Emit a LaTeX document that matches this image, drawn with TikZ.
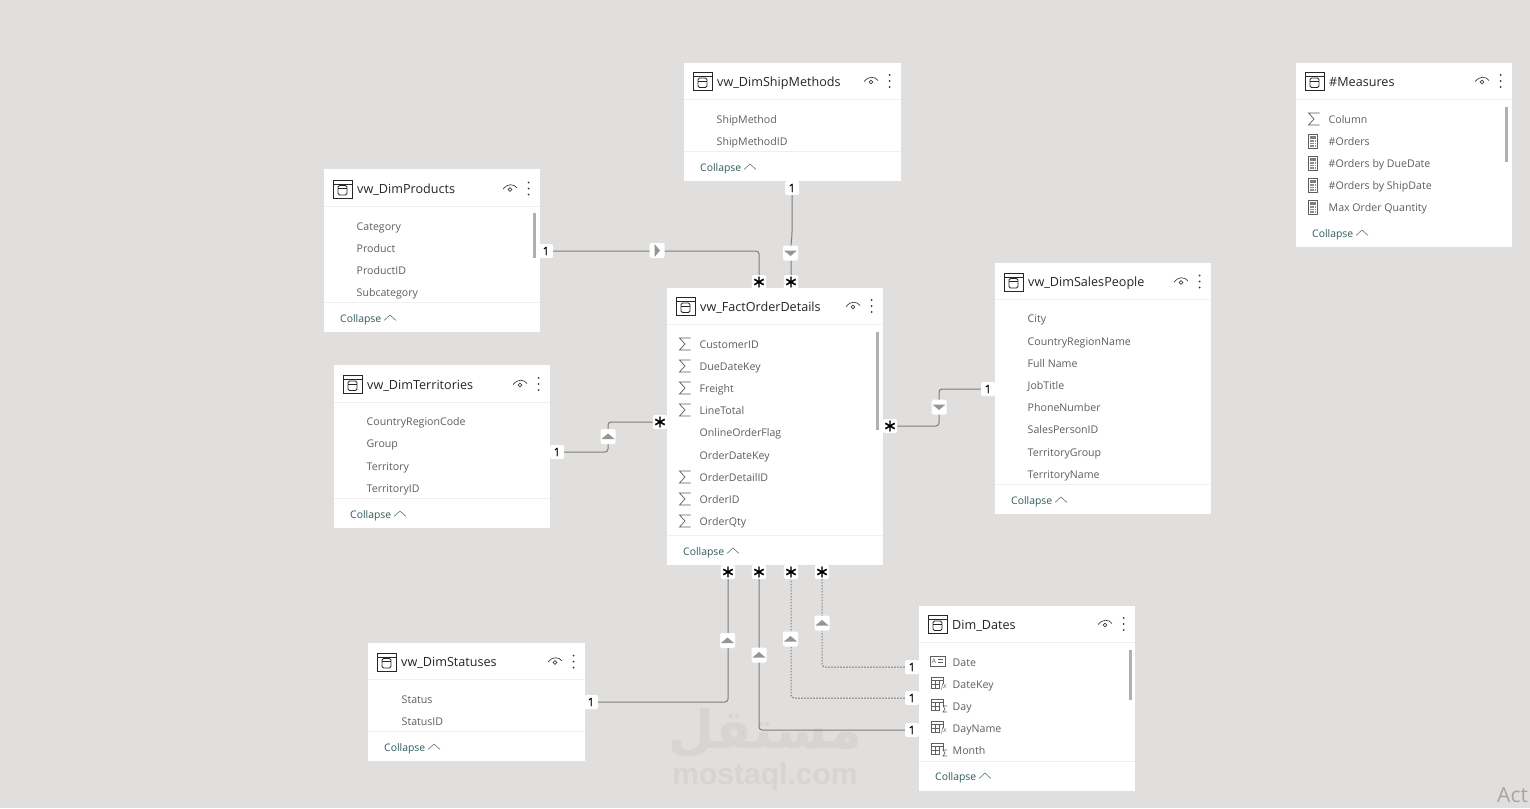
\documentclass[tikz,border=0pt]{standalone}
\usepackage{fontspec}
\setmainfont{Open Sans}
\newfontfamily\arabicfont[Script=Arabic]{DejaVu Sans}
\newfontfamily\wmfont{Liberation Sans}
\newfontfamily\starfont[FakeBold=.4]{DejaVu Sans}
\newfontfamily\onefont[FakeBold=.6]{Open Sans}
\TeXXeTstate=1
\usetikzlibrary{calc}
\definecolor{bgc}{HTML}{E0DFDD}
\definecolor{txtc}{HTML}{605E5C}
\definecolor{titlec}{HTML}{252423}
\definecolor{tealc}{HTML}{2F5B5B}
\definecolor{linec}{HTML}{7F7D7B}
\definecolor{arrowc}{HTML}{979593}
\definecolor{sepc}{HTML}{F0EFEE}
\definecolor{barc}{HTML}{B0AFAD}
\definecolor{wmc}{HTML}{D6D5D3}
\tikzset{
  card/.style={fill=white,draw=none,inner sep=0pt,rectangle},
  ttl/.style={anchor=base west,inner sep=0pt,yshift=-5.4pt,text=titlec,font=\fontsize{12.6}{14}\selectfont},
  itm/.style={anchor=base west,inner sep=0pt,xshift=.5pt,yshift=-4.7pt,text=txtc,font=\fontsize{10.6}{12}\selectfont},
  coll/.style={anchor=base west,inner sep=0pt,yshift=-4.7pt,text=tealc,font=\fontsize{10.4}{12}\selectfont},
  badge/.style={fill=white,rounded corners=1.5pt,minimum width=14pt,minimum height=14pt,inner sep=0pt},
  onebadge/.style={badge,text=black,font=\fontsize{11.5}{12}\onefont},
  starbadge/.style={badge,text=black,font=\fontsize{17}{17}\starfont},
  arrbadge/.style={badge,minimum width=15pt,minimum height=15pt},
  rel/.style={draw=linec,line width=1pt,rounded corners=3pt},
  reldash/.style={rel,dash pattern=on 1.6pt off 1.4pt},
  icn/.style={draw=black!85,line width=1pt},
  thin icn/.style={draw=txtc,line width=.6pt},
}
% table card: id, x0, y0, x1, y1, header line y, footer line y (or -1), title
\newcommand{\tbl}[8]{%
  \node[card,minimum width={(#4-#2)*1pt},minimum height={(#5-#3)*1pt}] (#1) at ({(#2+#4)/2},{(#3+#5)/2}) {};
  \draw[sepc,line width=.8pt] (#2,#6) -- (#4,#6);
  \ifnum#7>0 \draw[sepc,line width=.8pt] (#2,#7) -- (#4,#7);\fi
  % table icon
  \draw[icn] (#2+9,{#6-18-8.5}) rectangle (#2+28,{#6-18+9.5});
  \draw[icn] (#2+9,{#6-18-4.5}) -- (#2+28,{#6-18-4.5});
  \draw[icn,rounded corners=1.5pt,line width=.8pt] (#2+14,{#6-18-3}) rectangle (#2+23,{#6-18+6.5});
  \draw[icn,line width=.8pt] (#2+14,{#6-18}) -- (#2+23,{#6-18});
  \node[ttl] (#1-title) at (#2+33,{#6-18}) {#8};
  % eye
  \draw[draw=black!75,line width=.7pt] (#4-37,{#6-18+.5}) .. controls (#4-33,{#6-18-5}) and (#4-26,{#6-18-5}) .. (#4-23,{#6-18-.5});
  \draw[draw=black!75,line width=.7pt] (#4-30,{#6-18+1}) circle (1.8);
  % dots
  \foreach \dd in {-6,0,6} \fill[black!80] (#4-11.5,{#6-18+\dd}) circle (1);
}
\newcommand{\collapse}[4]{% id, x0, ytext, footer chevron offset
  \node[coll] (#1-collapse) at (#2+16,#3) {Collapse};
  \draw[draw=tealc!80,line width=.6pt] (#2+60,#3+2.5) -- (#2+66,#3-3) -- (#2+72,#3+2.5);
}
\newcommand{\sigm}[2]{\draw[draw=txtc,line width=.7pt,line join=miter] (#1+11,#2-6) -- (#1,#2-6) -- (#1+5.5,#2) -- (#1,#2+6) -- (#1+11,#2+6);}
\newcommand{\calc}[2]{%
  \draw[thin icn,fill=white] (#1,#2-7) rectangle (#1+9,#2+7);
  \fill[txtc!80] (#1+1.5,#2-5.5) rectangle (#1+7.5,#2-2.5);
  \foreach \yy in {-1,1.5,4} \foreach \xx in {1.5,3.8,6.1} \fill[txtc!70] (#1+\xx,#2+\yy) rectangle ++(1.5,1.5);}
\newcommand{\gridicn}[2]{%
  \draw[thin icn] (#1,#2-6) rectangle (#1+12,#2+5);
  \draw[thin icn] (#1,#2-3) -- (#1+12,#2-3) (#1+4,#2-3) -- (#1+4,#2+5) (#1+8,#2-3) -- (#1+8,#2+5) (#1,#2+1) -- (#1+12,#2+1);
  \fill[white] (#1+9,#2+1) rectangle (#1+16,#2+8);}
\newcommand{\hierA}[2]{\gridicn{#1}{#2}\node[inner sep=0pt,text=txtc,font=\fontsize{6.5}{7}\itshape\selectfont] (fx#1#2) at (#1+13,#2+4) {fx};}
\newcommand{\hierB}[2]{\gridicn{#1}{#2}\draw[thin icn] (#1+16,#2+1) -- (#1+12,#2+1) -- (#1+14,#2+4) -- (#1+12,#2+7) -- (#1+16,#2+7);}
\newcommand{\cardicn}[2]{%
  \draw[thin icn] (#1,#2-5) rectangle (#1+15,#2+5);
  \node[inner sep=0pt,text=txtc,font=\fontsize{6.5}{7}\selectfont] (ca#1#2) at (#1+4,#2) {A};
  \draw[thin icn] (#1+8,#2-1.5) -- (#1+13,#2-1.5) (#1+8,#2+1.5) -- (#1+13,#2+1.5);}
\newcommand{\arrowbadge}[4]{% name,x,y,rot
  \node[arrbadge] (#1) at (#2,#3) {};
  \fill[arrowc,rotate around={#4:(#2,#3)}] (#2-6.5,#3+2.5) -- (#2,#3-3) -- (#2+6.5,#3+2.5) -- cycle;
}
\begin{document}
\begin{tikzpicture}[x=1pt,y=-1pt]
\useasboundingbox (0,0) rectangle (1530,808);
\clip (0,0) rectangle (1530,808);
\fill[bgc] (0,0) rectangle (1530,808);
% watermark
\node[inner sep=0pt,text=wmc,font=\fontsize{53}{60}\arabicfont\bfseries] (wmar) at (765,733) {\beginR مستقل\endR};
\node[inner sep=0pt,text=wmc,font=\fontsize{30}{32}\wmfont\bfseries] (wmen) at (765,777) {mostaql.com};
\node[anchor=west,inner sep=0pt,text=black!35,font=\fontsize{21}{24}\selectfont] (act) at (1497,795) {Act};
% --- tables
\tbl{ship}{684}{63}{901}{181}{99}{151}{vw\_DimShipMethods}
\foreach \n/\y/\t in {a/119/ShipMethod,b/141/ShipMethodID} \node[itm] (ship-\n) at (716,\y) {\t};
\collapse{ship}{684}{167}{0}

\tbl{prod}{324}{169}{540}{332}{206.5}{302}{vw\_DimProducts}
\foreach \n/\y/\t in {a/226/Category,b/248/Product,c/270/ProductID,d/292/Subcategory} \node[itm] (prod-\n) at (356,\y) {\t};
\fill[barc] (533,213) rectangle (536,258);
\collapse{prod}{324}{318}{0}

\tbl{terr}{334}{365}{550}{528}{402}{498}{vw\_DimTerritories}
\foreach \n/\y/\t in {a/421/CountryRegionCode,b/443/Group,c/466/Territory,d/488/TerritoryID} \node[itm] (terr-\n) at (366,\y) {\t};
\collapse{terr}{334}{514}{0}

\tbl{fact}{667}{288}{883}{565}{324}{535}{vw\_FactOrderDetails}
\foreach \n/\y/\t in {a/344/CustomerID,b/366/DueDateKey,c/388/Freight,d/410/LineTotal,e/432/OnlineOrderFlag,f/455/OrderDateKey,g/477/OrderDetailID,h/499/OrderID,i/521/OrderQty} \node[itm] (fact-\n) at (699,\y) {\t};
\foreach \y in {344,366,388,410,477,499,521} {\sigm{679.5}{\y}}
\fill[barc] (876,332) rectangle (879,430);
\collapse{fact}{667}{551}{0}

\tbl{sales}{995}{263}{1211}{514}{299.5}{484}{vw\_DimSalesPeople}
\foreach \n/\y/\t in {a/318/City,b/341/CountryRegionName,c/363/Full Name,d/385/JobTitle,e/407/PhoneNumber,f/429/SalesPersonID,g/452/TerritoryGroup,h/474/TerritoryName} \node[itm] (sales-\n) at (1027,\y) {\t};
\collapse{sales}{995}{500}{0}

\tbl{meas}{1296}{63}{1512}{247}{99}{-1}{\#Measures}
\foreach \n/\y/\t in {a/119/Column,b/141/\#Orders,c/163/\#Orders by DueDate,d/185/\#Orders by ShipDate,e/207/Max Order Quantity} \node[itm] (meas-\n) at (1328,\y) {\t};
\sigm{1308.5}{119}
\foreach \y in {141,163,185,207} {\calc{1308.5}{\y}}
\fill[barc] (1505,107) rectangle (1508,162);
\collapse{meas}{1296}{233}{0}

\tbl{stat}{368}{643}{585}{761}{679.5}{731}{vw\_DimStatuses}
\foreach \n/\y/\t in {a/699/Status,b/721/StatusID} \node[itm] (stat-\n) at (401,\y) {\t};
\collapse{stat}{368}{747}{0}

\tbl{date}{919}{606}{1135}{791}{642}{761}{Dim\_Dates}
\foreach \n/\y/\t in {a/662/Date,b/684/DateKey,c/706/Day,d/728/DayName,e/750/Month} \node[itm] (date-\n) at (952,\y) {\t};
\cardicn{930}{661}
\hierA{931}{683}
\hierB{931}{705}
\hierA{931}{727}
\hierB{931}{749}
\fill[barc] (1129,650) rectangle (1132,700);
\collapse{date}{919}{776}{0}

% --- cardinality badges
\node[onebadge] (o1) at (546,251) {1};
\node[starbadge] (s1) at (759,282) {∗};
\node[onebadge] (o2) at (792,188) {1};
\node[starbadge] (s2) at (791,282) {∗};
\node[onebadge] (o3) at (557,452) {1};
\node[starbadge] (s3) at (660,422) {∗};
\node[onebadge] (o4) at (988,389) {1};
\node[starbadge] (s4) at (890,426) {∗};
\node[onebadge] (o5) at (591,702) {1};
\node[starbadge] (s5) at (728,572) {∗};
\node[onebadge] (o6) at (912,730) {1};
\node[starbadge] (s6) at (759,572) {∗};
\node[onebadge] (o7) at (912,698) {1};
\node[starbadge] (s7) at (791,572) {∗};
\node[onebadge] (o8) at (912,667) {1};
\node[starbadge] (s8) at (822,572) {∗};
\coordinate (c3a) at (608,452);
\coordinate (c3b) at (608,422);
\coordinate (c4a) at (939,389);
\coordinate (c4b) at (939,426);
% --- connectors
\draw[rel] (o1) -- (o1 -| s1) -- (s1);
\draw[rel] (o2) -- (792,235) -- (791,245) -- (s2);
\draw[rel] (o3) -- (c3a) -- (c3b) -- (s3);
\draw[rel] (o4) -- (c4a) -- (c4b) -- (s4);
\draw[rel] (o5) -- (o5 -| s5) -- (s5);
\draw[rel] (o6) -- (o6 -| s6) -- (s6);
\draw[reldash] (o7) -- (o7 -| s7) -- (s7);
\draw[reldash] (o8) -- (o8 -| s8) -- (s8);
% --- direction badges
\arrowbadge{a1}{657}{250.5}{-90}
\arrowbadge{a2}{790.5}{253}{180}
\arrowbadge{a3}{608}{436.5}{0}
\arrowbadge{a4}{939}{407}{180}
\arrowbadge{a5}{727.5}{640.5}{0}
\arrowbadge{a6}{759}{655}{0}
\arrowbadge{a7}{790.5}{639}{0}
\arrowbadge{a8}{822}{623}{0}
\end{tikzpicture}
\end{document}
